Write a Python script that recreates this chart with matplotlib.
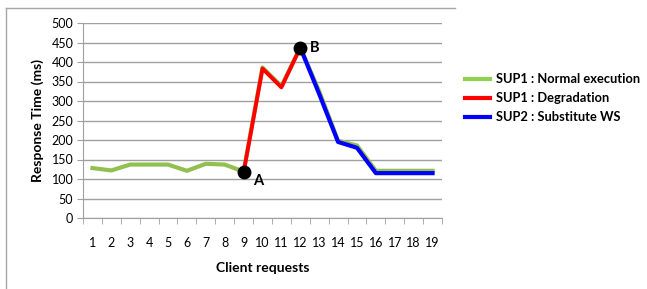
import matplotlib
matplotlib.use("Agg")
import matplotlib.pyplot as plt
from matplotlib.lines import Line2D

plt.rcParams['font.family'] = ['Lato', 'DejaVu Sans']

requests = list(range(1, 20))
normal = [128, 122, 137, 137, 137, 121, 139, 137, 119, 386, 338, 437, 325, 198, 186, 121, 121, 121, 121]
degr_x = [9, 10, 11, 12]
degr_y = [117, 383, 335, 437]
subst_x = [12, 13, 14, 15, 16, 17, 18, 19]
subst_y = [437, 318, 195, 180, 115, 115, 115, 115]
points = {'A': (9, 117), 'B': (12, 437)}
yticks = list(range(0, 501, 50))

W, H = 647, 289
fig = plt.figure(figsize=(W / 100, H / 100), dpi=100)
# partial frame (left and top edges only visible)
fig.add_artist(Line2D([5.5 / W, 5.5 / W], [0, 1 - 8 / H], transform=fig.transFigure,
                      color='#A6A6A6', lw=1))
fig.add_artist(Line2D([5.5 / W, 455 / W], [1 - 8 / H, 1 - 8 / H], transform=fig.transFigure,
                      color='#A6A6A6', lw=1))
ax = fig.add_axes([83 / W, 1 - 218 / H, (442 - 83) / W, (218 - 23) / H])

green = '#92C050'
ax.plot(requests, normal, color=green, lw=3, zorder=3, solid_joinstyle='round')
ax.plot(degr_x, degr_y, color='#FF0000', lw=2.8, zorder=4)
ax.plot(subst_x, subst_y, color='#0000FF', lw=3, zorder=4)
for lab, (px, py) in points.items():
    ax.plot(px, py, 'o', color='black', ms=9, zorder=5)
ax.annotate('A', points['A'], xytext=(7, -6), textcoords='offset points', fontsize=10.5,
            fontweight='bold', va='center', ha='left')
ax.annotate('B', points['B'], xytext=(7, 0), textcoords='offset points', fontsize=10.5,
            fontweight='bold', va='center', ha='left')

ax.set_xlim(0.5, 19.5)
ax.set_ylim(0, 500)
ax.set_yticks(yticks)
ax.set_xticks(requests)
ax.set_xticks([i + 0.5 for i in range(0, 20)], minor=True)
ax.tick_params(axis='x', which='major', length=0, pad=14, labelsize=9)
ax.tick_params(axis='x', which='minor', length=4, color='#A0A0A0', direction='out')
ax.tick_params(axis='y', length=4, color='#A0A0A0', labelsize=9, pad=3)
ax.grid(axis='y', color='#A0A0A0', lw=1)
ax.set_axisbelow(True)
for s in ['top', 'right']:
    ax.spines[s].set_visible(False)
for s in ['left', 'bottom']:
    ax.spines[s].set_color('#A0A0A0')
ax.set_ylabel('Response Time (ms)', fontsize=10, fontweight='bold', labelpad=5)
ax.set_xlabel('Client requests', fontsize=10, fontweight='bold', labelpad=9)

handles = [Line2D([], [], color='#92D050', lw=3),
           Line2D([], [], color='#FF0000', lw=3),
           Line2D([], [], color='#0000FF', lw=3)]
labels = ['SUP1 : Normal execution', 'SUP1 : Degradation', 'SUP2 : Substitute WS']
fig.legend(handles, labels, loc='upper left', bbox_to_anchor=(460 / W, 1 - 68 / H),
           frameon=False, prop={'weight': 'bold', 'size': 9.3}, handlelength=1.9,
           handletextpad=0.5, labelspacing=0.55, borderaxespad=0)

fig.savefig('out.png', dpi=100)
